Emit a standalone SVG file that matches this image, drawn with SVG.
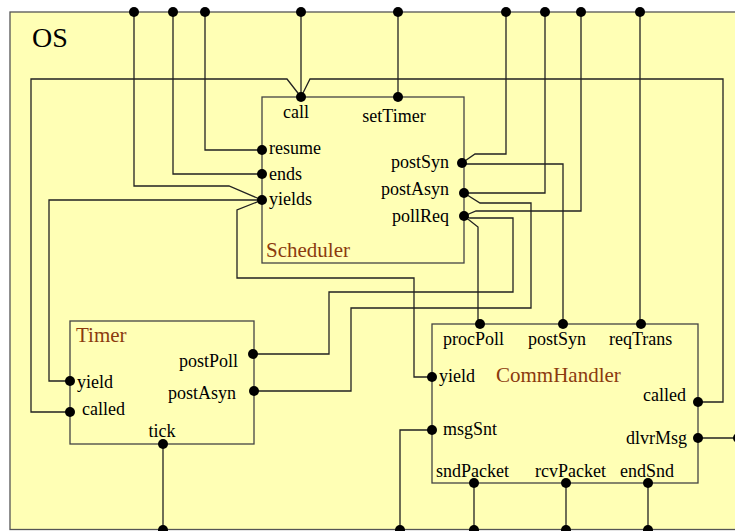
<svg xmlns="http://www.w3.org/2000/svg" width="735" height="531" viewBox="0 0 735 531">
<style>
.box{fill:#FFFFB5;stroke:#444;stroke-width:1.3}
.os{fill:#FFFFB5;stroke:#555;stroke-width:1.3}
.c{fill:none;stroke:#222;stroke-width:1.3}
.p{fill:#000}
.f{font-family:'Liberation Serif','Times New Roman','DejaVu Serif',Times,serif}
.t{font-size:18px;fill:#000}
.e{text-anchor:end}
.m{text-anchor:middle}
.ti{font-size:21px;fill:#8B3A0E}
</style>
<g id="OS">
<rect class="os" x="10" y="12" width="740" height="517.5"/>
<text class="f" x="32" y="47" font-size="28" fill="#000">OS</text>
</g>
<g id="Scheduler">
<rect class="box" x="262" y="97" width="202" height="166"/>
<text class="f ti" x="266" y="257">Scheduler</text>
<text class="f t m" x="296" y="118">call</text>
<text class="f t m" x="394" y="122">setTimer</text>
<text class="f t" x="269" y="154">resume</text>
<text class="f t" x="269" y="180">ends</text>
<text class="f t" x="269" y="205">yields</text>
<text class="f t e" x="449" y="168">postSyn</text>
<text class="f t e" x="449" y="195">postAsyn</text>
<text class="f t e" x="449" y="222">pollReq</text>
</g>
<g id="Timer">
<rect class="box" x="70" y="321" width="184" height="123"/>
<text class="f ti" x="76" y="342">Timer</text>
<text class="f t e" x="238" y="367">postPoll</text>
<text class="f t e" x="236" y="399">postAsyn</text>
<text class="f t" x="77" y="388">yield</text>
<text class="f t" x="82" y="415">called</text>
<text class="f t m" x="162" y="437">tick</text>
</g>
<g id="CommHandler">
<rect class="box" x="432" y="324" width="266" height="159"/>
<text class="f ti" x="496" y="382">CommHandler</text>
<text class="f t" x="443" y="345">procPoll</text>
<text class="f t" x="528" y="345">postSyn</text>
<text class="f t" x="609" y="345">reqTrans</text>
<text class="f t" x="439" y="382">yield</text>
<text class="f t e" x="686" y="401">called</text>
<text class="f t" x="443" y="435">msgSnt</text>
<text class="f t e" x="687" y="444">dlvrMsg</text>
<text class="f t" x="436" y="477">sndPacket</text>
<text class="f t" x="535" y="477">rcvPacket</text>
<text class="f t" x="620" y="477">endSnd</text>
</g>
<g id="connectors">
<polyline class="c" points="134,12 134,186 229,186 262,200"/>
<polyline class="c" points="173,12 173,174 262,174"/>
<polyline class="c" points="205,12 205,150 262,150"/>
<polyline class="c" points="301,12 301,97"/>
<polyline class="c" points="398,12 398,97"/>
<polyline class="c" points="506,12 506,154 475,154 462,163"/>
<polyline class="c" points="545,12 545,193 464,193"/>
<polyline class="c" points="581,12 581,211 476,211 464,216"/>
<polyline class="c" points="640,12 640,324"/>
<polyline class="c" points="301,97 287,79 31,79 31,412 70,412"/>
<polyline class="c" points="301,97 310,79 723,79 723,402 698,402"/>
<polyline class="c" points="262,200 49,200 49,381 70,381"/>
<polyline class="c" points="262,200 237,210 237,278 414,278 414,377 432,377"/>
<polyline class="c" points="462,164 563,164 563,324"/>
<polyline class="c" points="464,193 480,203 531,203 531,308 351,308 351,391 253,391"/>
<polyline class="c" points="464,216 470,218 513,218 513,292 329,292 329,354 253,354"/>
<polyline class="c" points="464,216 478,227 478,324"/>
<polyline class="c" points="163,444 163,530"/>
<polyline class="c" points="432,430 400,430 400,530"/>
<polyline class="c" points="474,483 474,530"/>
<polyline class="c" points="566,483 566,530"/>
<polyline class="c" points="648,483 648,530"/>
<polyline class="c" points="698,438 736,438"/>
</g>
<g id="ports">
<circle class="p" cx="134" cy="12" r="5"/>
<circle class="p" cx="173" cy="12" r="5"/>
<circle class="p" cx="205" cy="12" r="5"/>
<circle class="p" cx="301" cy="12" r="5"/>
<circle class="p" cx="398" cy="12" r="5"/>
<circle class="p" cx="506" cy="12" r="5"/>
<circle class="p" cx="545" cy="12" r="5"/>
<circle class="p" cx="581" cy="12" r="5"/>
<circle class="p" cx="640" cy="12" r="5"/>
<circle class="p" cx="163" cy="530" r="5"/>
<circle class="p" cx="400" cy="530" r="5"/>
<circle class="p" cx="474" cy="530" r="5"/>
<circle class="p" cx="566" cy="530" r="5"/>
<circle class="p" cx="648" cy="530" r="5"/>
<circle class="p" cx="738" cy="438" r="5"/>
<circle class="p" cx="301" cy="97" r="5"/>
<circle class="p" cx="398" cy="97" r="5"/>
<circle class="p" cx="262" cy="150" r="5"/>
<circle class="p" cx="262" cy="174" r="5"/>
<circle class="p" cx="262" cy="200" r="5"/>
<circle class="p" cx="462" cy="163" r="5"/>
<circle class="p" cx="464" cy="193" r="5"/>
<circle class="p" cx="464" cy="216" r="5"/>
<circle class="p" cx="70" cy="381" r="5"/>
<circle class="p" cx="70" cy="412" r="5"/>
<circle class="p" cx="253" cy="354" r="5"/>
<circle class="p" cx="254" cy="391" r="5"/>
<circle class="p" cx="163" cy="444" r="5"/>
<circle class="p" cx="480" cy="324" r="5"/>
<circle class="p" cx="563" cy="324" r="5"/>
<circle class="p" cx="641" cy="324" r="5"/>
<circle class="p" cx="432" cy="377" r="5"/>
<circle class="p" cx="432" cy="430" r="5"/>
<circle class="p" cx="698" cy="402" r="5"/>
<circle class="p" cx="698" cy="438" r="5"/>
<circle class="p" cx="474" cy="483" r="5"/>
<circle class="p" cx="566" cy="483" r="5"/>
<circle class="p" cx="648" cy="483" r="5"/>
</g>
</svg>
